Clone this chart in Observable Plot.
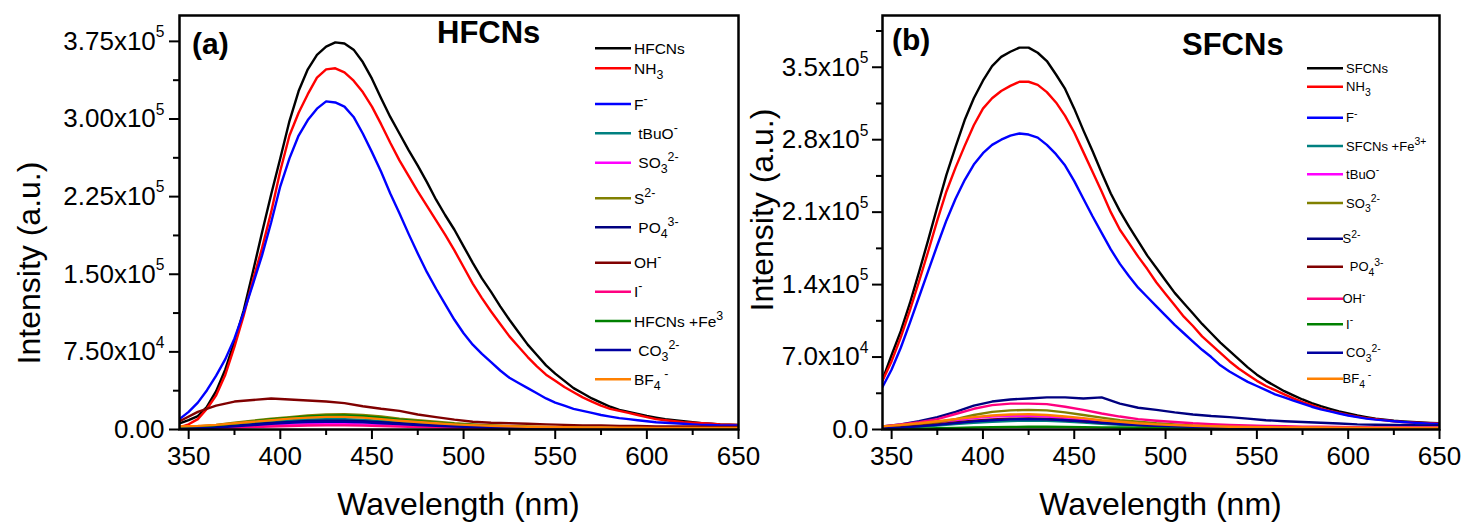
<!DOCTYPE html>
<html>
<head>
<meta charset="utf-8">
<script src="https://cdn.jsdelivr.net/npm/d3@7"></script>
<script src="https://cdn.jsdelivr.net/npm/@observablehq/plot@0.6"></script>
<style>
html,body{margin:0;padding:0;background:#fff;}
#chart{display:flex;width:1464px;height:524px;overflow:hidden;background:#fff;}
#chart svg{display:block;flex:none;}
</style>
</head>
<body>
<div id="chart"></div>
<script>
const FONT = '"Liberation Sans", Arial, Helvetica, sans-serif';

// ---------- wavelength grids (nm) ----------
const wavelength5 = [345,350,355,360,365,370,375,380,385,390,
  395,400,405,410,415,420,425,430,435,440,
  445,450,455,460,465,470,475,480,485,490,
  495,500,505,510,515,520,525,530,535,540,
  545,550,555,560,565,570,575,580,585,590,
  595,600,605,610,615,620,625,630,635,640,
  645,650];
const wavelength10 = [345,355,365,375,385,395,405,415,425,435,
  445,455,465,475,485,495,505,515,525,535,
  545,555,565,575,585,595,605,615,625,635,
  645,650];

// ---------- panel (a) HFCNs, intensity in units of 1e5 ----------
const aHFCNs = [0.06,0.09,0.13,0.22,0.37,0.58,0.85,1.15,1.52,1.90,
  2.27,2.62,2.98,3.27,3.48,3.62,3.70,3.74,3.73,3.67,
  3.55,3.39,3.20,3.02,2.86,2.70,2.55,2.39,2.22,2.07,
  1.93,1.77,1.61,1.46,1.33,1.19,1.06,0.94,0.82,0.72,
  0.62,0.54,0.47,0.40,0.35,0.30,0.26,0.22,0.19,0.17,
  0.15,0.13,0.115,0.10,0.09,0.08,0.07,0.06,0.055,0.05,
  0.047,0.045];
const aNH3 = [0.02,0.05,0.10,0.20,0.33,0.53,0.80,1.10,1.44,1.75,
  2.10,2.50,2.84,3.06,3.24,3.40,3.48,3.49,3.45,3.37,
  3.26,3.12,2.95,2.77,2.60,2.45,2.30,2.16,2.02,1.88,
  1.73,1.57,1.41,1.27,1.14,1.02,0.90,0.80,0.70,0.61,
  0.53,0.47,0.41,0.36,0.31,0.27,0.23,0.20,0.18,0.16,
  0.14,0.12,0.10,0.09,0.08,0.07,0.065,0.06,0.055,0.05,
  0.047,0.045];
const aF = [0.10,0.17,0.26,0.38,0.52,0.68,0.88,1.13,1.40,1.68,
  2.00,2.35,2.62,2.84,2.99,3.10,3.17,3.16,3.12,3.02,
  2.86,2.68,2.49,2.28,2.09,1.89,1.70,1.52,1.36,1.21,
  1.06,0.93,0.82,0.73,0.65,0.57,0.50,0.45,0.40,0.35,
  0.30,0.26,0.23,0.20,0.18,0.16,0.14,0.125,0.11,0.10,
  0.09,0.08,0.07,0.065,0.06,0.055,0.05,0.045,0.043,0.04,
  0.04,0.04];
const aTBuO = [0.01,0.02,0.03,0.045,0.06,0.075,0.088,0.097,0.10,0.10,
  0.094,0.083,0.07,0.058,0.047,0.038,0.031,0.026,0.022,0.019,
  0.016,0.014,0.012,0.011,0.01,0.01,0.009,0.009,0.008,0.008,
  0.008,0.008];
const aSO3 = [0.005,0.008,0.014,0.022,0.031,0.04,0.047,0.052,0.055,0.054,
  0.05,0.045,0.038,0.032,0.026,0.021,0.017,0.014,0.012,0.01,
  0.009,0.008,0.007,0.006,0.006,0.005,0.005,0.005,0.005,0.004,
  0.004,0.004];
const aS2 = [0.02,0.03,0.045,0.065,0.085,0.105,0.12,0.135,0.145,0.148,
  0.14,0.125,0.105,0.09,0.075,0.06,0.05,0.04,0.033,0.028,
  0.024,0.02,0.018,0.016,0.015,0.014,0.013,0.012,0.012,0.011,
  0.011,0.011];
const aPO4 = [0.005,0.012,0.022,0.035,0.05,0.063,0.074,0.082,0.086,0.085,
  0.079,0.07,0.06,0.05,0.041,0.033,0.027,0.022,0.018,0.015,
  0.013,0.011,0.01,0.009,0.008,0.008,0.007,0.007,0.006,0.006,
  0.006,0.006];
const aOH = [0.08,0.17,0.23,0.27,0.285,0.30,0.29,0.28,0.27,0.255,
  0.225,0.20,0.18,0.145,0.12,0.095,0.075,0.065,0.06,0.055,
  0.05,0.045,0.04,0.04,0.035,0.035,0.03,0.03,0.03,0.025,
  0.025,0.025];
const aI = [0.003,0.006,0.01,0.016,0.023,0.029,0.034,0.038,0.04,0.04,
  0.037,0.033,0.028,0.023,0.019,0.016,0.013,0.011,0.009,0.008,
  0.007,0.006,0.005,0.005,0.004,0.004,0.004,0.004,0.003,0.003,
  0.003,0.003];
const aFe3 = [0.015,0.025,0.04,0.058,0.078,0.098,0.112,0.125,0.133,0.135,
  0.128,0.113,0.095,0.08,0.066,0.053,0.044,0.036,0.03,0.025,
  0.021,0.018,0.016,0.014,0.013,0.012,0.011,0.011,0.01,0.01,
  0.01,0.01];
const aCO3 = [0.005,0.01,0.018,0.03,0.043,0.055,0.065,0.072,0.075,0.074,
  0.069,0.061,0.052,0.043,0.035,0.029,0.024,0.02,0.016,0.014,
  0.012,0.01,0.009,0.008,0.007,0.007,0.006,0.006,0.006,0.005,
  0.005,0.005];
const aBF4 = [0.03,0.035,0.045,0.06,0.075,0.09,0.105,0.115,0.122,0.122,
  0.115,0.10,0.085,0.072,0.06,0.05,0.042,0.036,0.031,0.027,
  0.024,0.022,0.02,0.019,0.018,0.017,0.016,0.016,0.015,0.015,
  0.015,0.015];

const namesA = ["HFCNs","NH3","F-","tBuO-","SO3 2-","S2-","PO4 3-","OH-","I-","HFCNs+Fe3","CO3 2-","BF4-"];
const legendA = ["HFCNs","NH_3","F^-"," tBuO^-"," SO_3^2-","S^2-"," PO_4^3-","OH^-","I^-","HFCNs +Fe^3"," CO_3^2-","BF_4^ -"];
const colorsA = ["#000000","#ff0000","#0000ff","#008080","#ff00ff","#808000","#000080","#800000","#ff0080","#008000","#0000a0","#ff8000"];
const valuesA = [aHFCNs,aNH3,aF,aTBuO,aSO3,aS2,aPO4,aOH,aI,aFe3,aCO3,aBF4];

// ---------- panel (b) SFCNs ----------
const bSFCNs = [0.48,0.72,0.95,1.22,1.52,1.83,2.15,2.46,2.73,2.99,
  3.20,3.37,3.51,3.60,3.65,3.69,3.69,3.64,3.56,3.43,
  3.29,3.10,2.89,2.69,2.48,2.28,2.11,1.96,1.82,1.68,
  1.56,1.44,1.32,1.22,1.12,1.02,0.93,0.84,0.76,0.68,
  0.60,0.53,0.47,0.42,0.37,0.33,0.29,0.255,0.225,0.20,
  0.175,0.155,0.135,0.12,0.105,0.095,0.085,0.078,0.072,0.067,
  0.063,0.06];
const bNH3 = [0.47,0.66,0.89,1.15,1.43,1.72,2.02,2.30,2.53,2.74,
  2.94,3.10,3.20,3.27,3.32,3.36,3.36,3.33,3.26,3.16,
  3.03,2.87,2.68,2.49,2.30,2.10,1.93,1.80,1.67,1.55,
  1.42,1.31,1.20,1.09,1.00,0.90,0.82,0.74,0.66,0.59,
  0.53,0.47,0.42,0.38,0.34,0.30,0.265,0.235,0.205,0.18,
  0.16,0.14,0.125,0.11,0.10,0.09,0.08,0.073,0.068,0.064,
  0.061,0.058];
const bF = [0.41,0.58,0.79,1.03,1.28,1.53,1.78,2.02,2.23,2.41,
  2.56,2.67,2.75,2.80,2.84,2.86,2.85,2.82,2.75,2.66,
  2.55,2.40,2.23,2.06,1.90,1.74,1.60,1.48,1.37,1.28,
  1.19,1.10,1.01,0.93,0.85,0.77,0.70,0.62,0.56,0.51,
  0.46,0.42,0.38,0.34,0.31,0.28,0.25,0.22,0.195,0.175,
  0.155,0.135,0.12,0.105,0.095,0.088,0.08,0.072,0.066,0.061,
  0.057,0.054];
const bFe3 = [0.008,0.015,0.025,0.038,0.052,0.065,0.075,0.082,0.085,0.083,
  0.076,0.066,0.055,0.045,0.037,0.03,0.025,0.021,0.018,0.016,
  0.014,0.012,0.011,0.01,0.01,0.009,0.009,0.008,0.008,0.008,
  0.008,0.008];
const bTBuO = [0.02,0.035,0.05,0.07,0.09,0.11,0.125,0.13,0.13,0.125,
  0.11,0.095,0.078,0.063,0.05,0.04,0.033,0.028,0.024,0.021,
  0.019,0.017,0.015,0.014,0.013,0.012,0.011,0.011,0.01,0.01,
  0.01,0.01];
const bSO3 = [0.02,0.035,0.05,0.07,0.10,0.14,0.17,0.185,0.19,0.185,
  0.165,0.14,0.115,0.09,0.075,0.06,0.05,0.04,0.035,0.03,
  0.026,0.023,0.021,0.019,0.017,0.016,0.015,0.014,0.013,0.013,
  0.012,0.012];
const bS2 = [0.03,0.05,0.08,0.12,0.17,0.23,0.27,0.29,0.30,0.31,
  0.31,0.30,0.31,0.25,0.21,0.19,0.165,0.145,0.13,0.12,
  0.105,0.09,0.08,0.072,0.065,0.058,0.05,0.046,0.044,0.041,
  0.04,0.04];
const bPO4 = [0.01,0.02,0.035,0.05,0.068,0.085,0.097,0.104,0.106,0.102,
  0.092,0.08,0.066,0.054,0.044,0.036,0.03,0.025,0.021,0.018,
  0.016,0.014,0.013,0.012,0.011,0.01,0.01,0.009,0.009,0.009,
  0.008,0.008];
const bOH = [0.03,0.05,0.07,0.10,0.15,0.20,0.235,0.25,0.25,0.245,
  0.22,0.19,0.155,0.125,0.10,0.085,0.072,0.06,0.052,0.045,
  0.04,0.035,0.031,0.028,0.026,0.024,0.022,0.021,0.02,0.02,
  0.019,0.019];
const bI = [0.003,0.005,0.008,0.012,0.016,0.02,0.023,0.025,0.026,0.026,
  0.025,0.023,0.021,0.019,0.017,0.015,0.013,0.012,0.011,0.01,
  0.009,0.008,0.008,0.007,0.007,0.006,0.006,0.006,0.006,0.005,
  0.005,0.005];
const bCO3 = [0.01,0.018,0.03,0.045,0.062,0.078,0.09,0.098,0.10,0.098,
  0.09,0.078,0.065,0.053,0.043,0.035,0.03,0.025,0.021,0.018,
  0.016,0.014,0.013,0.012,0.011,0.01,0.01,0.009,0.009,0.009,
  0.008,0.008];
const bBF4 = [0.03,0.045,0.06,0.08,0.10,0.12,0.135,0.145,0.148,0.14,
  0.125,0.11,0.09,0.075,0.06,0.05,0.042,0.036,0.031,0.027,
  0.025,0.023,0.021,0.02,0.019,0.018,0.017,0.016,0.016,0.015,
  0.015,0.015];

const namesB = ["SFCNs","NH3","F-","SFCNs+Fe3+","tBuO-","SO3 2-","S2-","PO4 3-","OH-","I-","CO3 2-","BF4-"];
const legendB = [" SFCNs"," NH_3"," F^-"," SFCNs +Fe^3+"," tBuO^-"," SO_3^2-","S^2-","  PO_4^3-","OH^-"," I^-"," CO_3^2-","BF_4^ -"];
const colorsB = ["#000000","#ff0000","#0000ff","#008080","#ff00ff","#808000","#000080","#800000","#ff0080","#008000","#0000a0","#ff8000"];
const valuesB = [bSFCNs,bNH3,bF,bFe3,bTBuO,bSO3,bS2,bPO4,bOH,bI,bCO3,bBF4];

// ---------- ticks ----------
const xMajor = [350,400,450,500,550,600,650];
const xMinor = [375,425,475,525,575,625];
const yTicksA = [0,0.75,1.5,2.25,3.0,3.75];
const yLabelsA = ["0.00","7.50x10^4","1.50x10^5","2.25x10^5","3.00x10^5","3.75x10^5"];
const yMinorA = [0.375,1.125,1.875,2.625,3.375];
const yTicksB = [0,0.7,1.4,2.1,2.8,3.5];
const yLabelsB = ["0.0","7.0x10^4","1.4x10^5","2.1x10^5","2.8x10^5","3.5x10^5"];
const yMinorB = [0.35,1.05,1.75,2.45,3.15,3.85];

// text with sub (_) and super (^) script parts
function richText(sel, str, size, o) {
  const parts = str.split(/([_^][^_^]*)/).filter(s => s.length);
  let shift = 0;
  for (const p of parts) {
    let target = 0, fs = size, txt = p;
    if (p[0] === "_") { target = o.sub * size; fs = o.scale * size; txt = p.slice(1); }
    else if (p[0] === "^") { target = o.sup * size; fs = o.scale * size; txt = p.slice(1); }
    sel.append("tspan").attr("dy", target - shift).attr("font-size", fs).text(txt);
    shift = target;
  }
}

function drawPanel(cfg) {
  const rows = [];
  cfg.names.forEach((name, k) => {
    const vals = cfg.values[k];
    const grid = vals.length === wavelength5.length ? wavelength5 : wavelength10;
    vals.forEach((v, i) => rows.push({series: name, w: grid[i], v}));
  });
  const svg = Plot.plot({
    width: cfg.width, height: 524,
    marginLeft: cfg.marginLeft, marginRight: cfg.marginRight, marginTop: 15, marginBottom: 95,
    style: {fontFamily: FONT, fontSize: "26px", color: "#000", background: "transparent", overflow: "visible"},
    x: {domain: [345, 650]},
    y: {domain: [0, 4.0]},
    color: {type: "ordinal", domain: cfg.names, range: cfg.colors},
    marks: [
      Plot.line(rows, {x: "w", y: "v", z: "series", stroke: "series", strokeWidth: 2.4, clip: true}),
      Plot.axisY(cfg.yTicks, {tickSize: 10, tickPadding: cfg.yPad, strokeWidth: 2, tickFormat: d => cfg.yLabels[cfg.yTicks.indexOf(d)], label: null}),
      Plot.axisY(cfg.yMinor, {tickSize: 6, strokeWidth: 2, tickFormat: () => "", label: null}),
      Plot.axisX(xMajor, {tickSize: 10, tickPadding: 7, strokeWidth: 2, label: null}),
      Plot.axisX(xMinor, {tickSize: 6, strokeWidth: 2, tickFormat: () => "", label: null}),
      Plot.frame({stroke: "#000", strokeWidth: 2.5})
    ]
  });
  const s = d3.select(svg);
  // superscript exponents in tick labels
  s.selectAll("text").each(function() {
    const t = this.textContent;
    if (t.includes("^")) {
      const sel = d3.select(this);
      sel.text(null);
      richText(sel, t, 26, {sub: 0, sup: -0.48, scale: 0.6});
    }
  });
  const g = s.append("g").attr("font-family", FONT).attr("fill", "#000").attr("text-anchor", "start");
  // panel letter and title
  g.append("text").attr("x", cfg.letterX).attr("y", cfg.letterY).attr("font-size", 30).attr("font-weight", "bold").text(cfg.letter);
  g.append("text").attr("x", cfg.titleX).attr("y", cfg.titleY).attr("font-size", 31).attr("font-weight", "bold").text(cfg.title);
  // axis titles
  const fw = cfg.width - cfg.marginLeft - cfg.marginRight;
  g.append("text").attr("x", cfg.marginLeft + fw / 2).attr("y", 515).attr("text-anchor", "middle").attr("font-size", 32).text("Wavelength (nm)");
  g.append("text").attr("transform", `translate(${cfg.yTitleX},${cfg.yTitleY}) rotate(-90)`).attr("text-anchor", "middle").attr("font-size", 32).text("Intensity (a.u.)");
  // legend
  cfg.names.forEach((name, k) => {
    const ly = cfg.legendY[k];
    g.append("line").attr("x1", cfg.legX1).attr("x2", cfg.legX2).attr("y1", ly).attr("y2", ly)
      .attr("stroke", cfg.colors[k]).attr("stroke-width", 2.5);
    const t = g.append("text").attr("x", cfg.legTextX).attr("y", ly + cfg.legFont * 0.36)
      .attr("font-size", cfg.legFont).attr("text-anchor", "start").style("white-space", "pre");
    richText(t, cfg.legend[k], cfg.legFont, {sub: 0.33, sup: -0.45, scale: 0.8});
  });
  return svg;
}

const chart = document.getElementById("chart");
chart.append(drawPanel({
  width: 742, marginLeft: 179, marginRight: 4, yPad: 5,
  names: namesA, colors: colorsA, values: valuesA, legend: legendA,
  yTicks: yTicksA, yLabels: yLabelsA, yMinor: yMinorA,
  letter: "(a)", letterX: 192, letterY: 54, title: "HFCNs", titleX: 437, titleY: 43,
  yTitleX: 40, yTitleY: 263,
  legendY: [48.3,68.3,104,133.3,162.7,198.3,227.3,262.7,291.7,321,350,379.3],
  legX1: 595, legX2: 631, legTextX: 634, legFont: 15.5
}));
chart.append(drawPanel({
  width: 722, marginLeft: 140, marginRight: 25, yPad: 4,
  names: namesB, colors: colorsB, values: valuesB, legend: legendB,
  yTicks: yTicksB, yLabels: yLabelsB, yMinor: yMinorB,
  letter: "(b)", letterX: 150, letterY: 50, title: "SFCNs", titleX: 440, titleY: 55,
  yTitleX: 31, yTitleY: 210,
  legendY: [68.3,86.7,117.7,146,174.3,203,238.7,266.7,298.7,324.3,352.7,378.7],
  legX1: 565, legX2: 601, legTextX: 600.5, legFont: 13
}));
</script>
</body>
</html>
